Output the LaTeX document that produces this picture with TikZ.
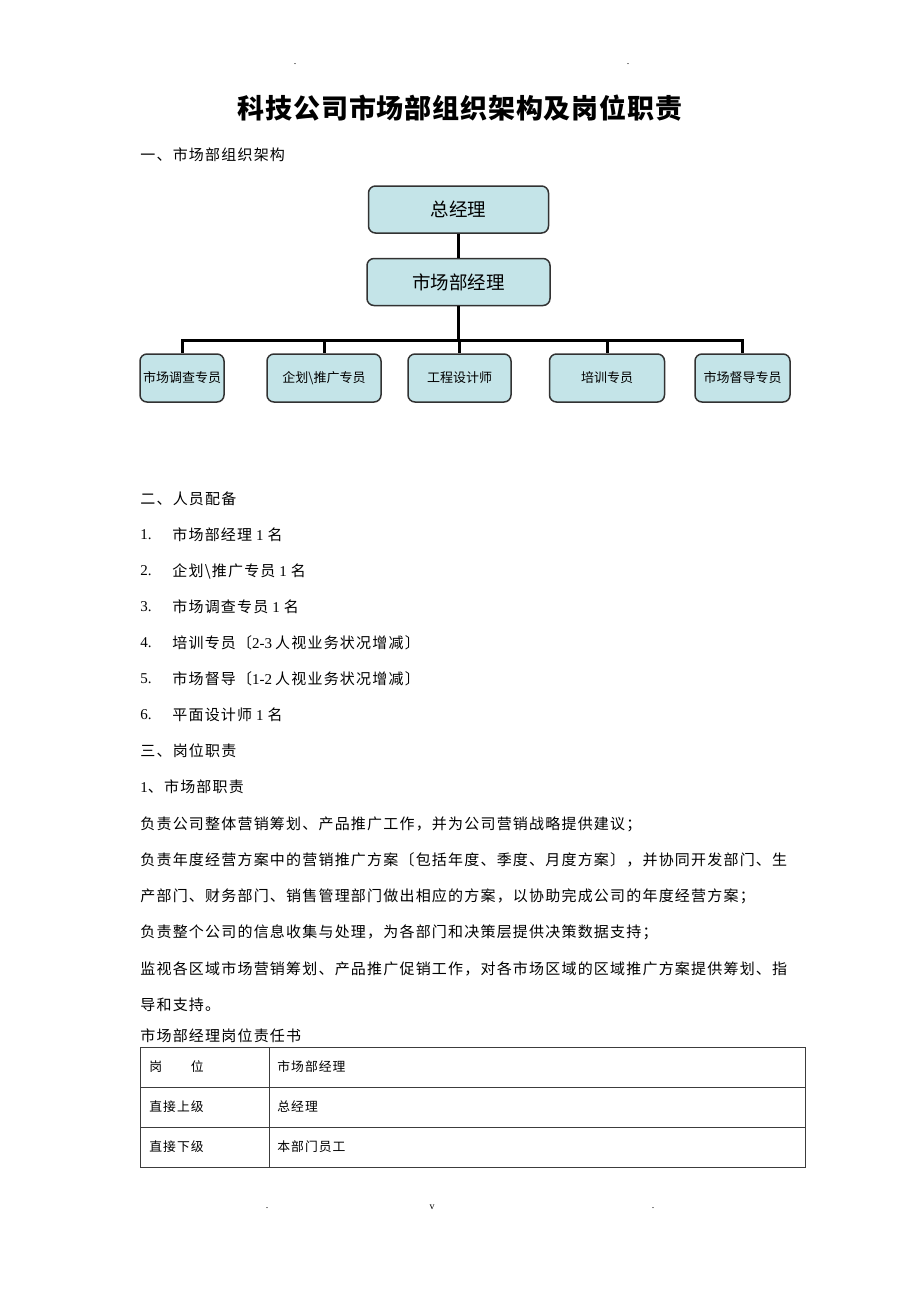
\documentclass[tikz,border=0pt]{standalone}
\usepackage{fontspec}
\setmainfont{Noto Sans CJK SC}
\newfontfamily\bodyfont[LetterSpace=8]{Noto Sans CJK SC}
\newfontfamily\titlefont[LetterSpace=3]{Noto Sans CJK SC}
\newfontfamily\serif{Liberation Serif}
\definecolor{boxfill}{RGB}{196,228,232}
\definecolor{boxline}{RGB}{50,50,50}
\definecolor{tabline}{RGB}{60,60,60}

\tikzset{every picture/.style={line width=0.75pt}}
\tikzset{
  topbox/.style={draw=boxline,line width=1.5pt,fill=boxfill,rounded corners=7pt,
    minimum height=47pt,inner sep=0pt,font=\fontsize{18.5}{18.5}\selectfont},
  staffbox/.style={draw=boxline,line width=1.5pt,fill=boxfill,rounded corners=7pt,
    minimum height=48pt,inner sep=0pt,font=\fontsize{13}{13}\selectfont},
  link/.style={line width=3pt,black},
  txt/.style={anchor=west,inner sep=0pt,font=\bodyfont\fontsize{15}{15}\selectfont},
  cell/.style={anchor=west,inner sep=0pt,font=\bodyfont\fontsize{12.8}{12.8}\selectfont},
  grid/.style={draw=tabline,line width=1pt},
  pagemark/.style={inner sep=0pt,font=\serif\fontsize{10}{10}\selectfont}
}

\begin{document}
\begin{tikzpicture}[x=1pt,y=1pt,yscale=-1]
\useasboundingbox (0,0) rectangle (920,1302);

% page marks
\node[pagemark] (mtl) at (295,64) {.};
\node[pagemark] (mtr) at (628,64) {.};
\node[pagemark] (mbl) at (267,1208) {.};
\node[pagemark] (mbc) at (432,1207) {v};
\node[pagemark] (mbr) at (653,1208) {.};

% title
\node[inner sep=0pt,font=\titlefont\bfseries\fontsize{27}{27}\selectfont] (title) at (460,108) {科技公司市场部组织架构及岗位职责};
\node[txt] (sec1) at (140,155) {一、市场部组织架构};

%Org chart
\node[topbox,minimum width=180pt] (gm) at (458.5,209.5) {总经理};
\node[topbox,minimum width=183pt] (mkt) at (458.5,282) {市场部经理};
\node[staffbox,minimum width=84pt] (survey) at (182,378) {市场调查专员};
\node[staffbox,minimum width=114pt] (promo) at (324,378) {企划\textbackslash 推广专员};
\node[staffbox,minimum width=103pt] (design) at (459.5,378) {工程设计师};
\node[staffbox,minimum width=115pt] (train) at (607,378) {培训专员};
\node[staffbox,minimum width=95pt] (supervise) at (742.5,378) {市场督导专员};
\coordinate (bar) at (458.5,340);

\draw[link] (gm) -- (mkt);
\draw[link] (mkt) -- (bar);
\foreach \n in {survey,promo,design,train,supervise}
  \draw[link] (bar) -| (\n.north);

% Text Node
\node[txt] (sec2) at (140,499) {二、人员配备};
\node[txt] (n1) at (140,535) {\serif 1.};
\node[txt] (item1) at (172,535) {市场部经理\hspace{4pt}{\serif 1}\hspace{4pt}名};
\node[txt] (n2) at (140,571) {\serif 2.};
\node[txt] (item2) at (172,571) {企划\textbackslash 推广专员\hspace{4pt}{\serif 1}\hspace{4pt}名};
\node[txt] (n3) at (140,607) {\serif 3.};
\node[txt] (item3) at (172,607) {市场调查专员\hspace{4pt}{\serif 1}\hspace{4pt}名};
\node[txt] (n4) at (140,643) {\serif 4.};
\node[txt] (item4) at (172,643) {培训专员〔{\serif 2-3}\hspace{3pt}人视业务状况增减〕};
\node[txt] (n5) at (140,679) {\serif 5.};
\node[txt] (item5) at (172,679) {市场督导〔{\serif 1-2}\hspace{3pt}人视业务状况增减〕};
\node[txt] (n6) at (140,715) {\serif 6.};
\node[txt] (item6) at (172,715) {平面设计师\hspace{4pt}{\serif 1}\hspace{4pt}名};

% Text Node
\node[txt] (sec3) at (140,751) {三、岗位职责};
\node[txt] (sub1) at (140,787) {{\serif 1}、市场部职责};
\node[txt] (line1) at (140,824) {负责公司整体营销筹划、产品推广工作，并为公司营销战略提供建议；};
\node[txt] (line2) at (140,860) {负责年度经营方案中的营销推广方案〔包括年度、季度、月度方案〕，并协同开发部门、生};
\node[txt] (line3) at (140,896) {产部门、财务部门、销售管理部门做出相应的方案，以协助完成公司的年度经营方案；};
\node[txt] (line4) at (140,932) {负责整个公司的信息收集与处理，为各部门和决策层提供决策数据支持；};
\node[txt] (line5) at (140,969) {监视各区域市场营销筹划、产品推广促销工作，对各市场区域的区域推广方案提供筹划、指};
\node[txt] (line6) at (140,1005) {导和支持。};
\node[txt] (tabtitle) at (140,1036) {市场部经理岗位责任书};

%Table
\draw[grid] (140,1047) rectangle (805,1167);
\draw[grid] (140,1087) -- (805,1087);
\draw[grid] (140,1127) -- (805,1127);
\draw[grid] (269,1047) -- (269,1167);
\node[cell] (c11) at (149,1067) {岗　　位};
\node[cell] (c12) at (277,1067) {市场部经理};
\node[cell] (c21) at (149,1107) {直接上级};
\node[cell] (c22) at (277,1107) {总经理};
\node[cell] (c31) at (149,1147) {直接下级};
\node[cell] (c32) at (277,1147) {本部门员工};

\end{tikzpicture}
\end{document}
